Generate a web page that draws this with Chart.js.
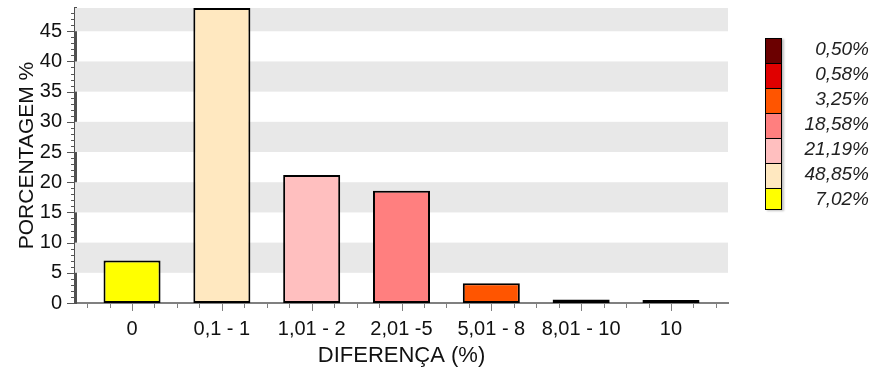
<!DOCTYPE html>
<html lang="pt-BR">
<head>
<meta charset="utf-8">
<title>Diferença (%)</title>
<script src="https://cdn.jsdelivr.net/npm/chart.js@4.4.1/dist/chart.umd.min.js"></script>
<style>
  html, body { margin: 0; padding: 0; background: #fff; }
  #caixa { position: relative; width: 875px; height: 372px; }
  #legenda { position: absolute; left: 765px; top: 38px; width: 104px; }
  .item { position: relative; height: 25px; }
  .cor { position: absolute; left: 0; top: 0; width: 15px; height: 24px; border: 1px solid #000; border-bottom: 0; box-shadow: 2px 1px 2px rgba(0,0,0,0.25); }
  .item:last-child .cor { height: 20px; border-bottom: 1px solid #000; }
  .txt { position: absolute; right: 0; top: 0; line-height: 25px; font: italic 19px "Liberation Sans", Arial, sans-serif; color: #222; }
</style>
</head>
<body>
<div id="caixa">
  <canvas id="barChart" width="875" height="372"></canvas>
  <div id="legenda"></div>
</div>
<script>
// dados
const categorias = ['0', '0,1 - 1', '1,01 - 2', '2,01 -5', '5,01 - 8', '8,01 - 10', '10'];
const porcentagens = [7.02, 48.85, 21.19, 18.58, 3.25, 0.58, 0.50];
const rotulosLegenda = ['7,02%', '48,85%', '21,19%', '18,58%', '3,25%', '0,58%', '0,50%'];
const cores = ['#ffff00', '#ffe8c0', '#ffbfbf', '#ff7f7f', '#ff5500', '#e00000', '#6b0000'];
const ticksY = [0, 5, 10, 15, 20, 25, 30, 35, 40, 45];

// faixas cinzas + marcas menores dos eixos
const faixasEMarcas = {
    id: 'faixasEMarcas',
    beforeDatasetsDraw(chart) {
        const { ctx, chartArea, scales: { y } } = chart;
        ctx.save();
        ctx.fillStyle = '#e8e8e8';
        for (let v = 5; v < y.max; v += 10) {
            const topo = y.getPixelForValue(Math.min(v + 5, y.max));
            const base = y.getPixelForValue(v);
            ctx.fillRect(chartArea.left, topo, chartArea.right - chartArea.left, base - topo);
        }
        ctx.restore();
    },
    afterDraw(chart) {
        const { ctx, chartArea, scales: { x, y } } = chart;
        ctx.save();
        ctx.lineWidth = 1;
        ctx.strokeStyle = '#555';
        for (let v = 0; v <= y.max; v++) {
            const py = Math.round(y.getPixelForValue(v)) + 0.5;
            const tam = v % 5 === 0 ? 8 : 4;
            ctx.beginPath();
            ctx.moveTo(chartArea.left - tam, py);
            ctx.lineTo(chartArea.left, py);
            ctx.stroke();
        }
        ctx.strokeStyle = '#808080';
        for (let k = Math.ceil(x.min * 4); k <= Math.floor(x.max * 4); k++) {
            const px = Math.round(x.getPixelForValue(k / 4)) + 0.5;
            const tam = k % 4 === 0 ? 8 : 5;
            ctx.beginPath();
            ctx.moveTo(px, chartArea.bottom);
            ctx.lineTo(px, chartArea.bottom + tam);
            ctx.stroke();
        }
        ctx.restore();
    }
};

const ctxBar = document.getElementById('barChart').getContext('2d');
const fonte = '"Liberation Sans", Arial, sans-serif';

let chart = new Chart(ctxBar, {
    type: 'bar',
    data: {
        datasets: [{
            data: porcentagens.map((v, i) => ({ x: i, y: v })),
            backgroundColor: cores,
            borderColor: '#000',
            borderWidth: 2,
            borderSkipped: false,
            barPercentage: 0.635,
            categoryPercentage: 1
        }]
    },
    options: {
        responsive: false,
        animation: false,
        layout: { padding: { left: 0, right: 147, top: 8, bottom: 0 } },
        plugins: {
            legend: { display: false },
            tooltip: { enabled: false }
        },
        scales: {
            x: {
                type: 'linear',
                min: -0.635,
                max: 6.635,
                offset: false,
                afterFit: s => { s.height = 69; s.paddingLeft = 0; s.paddingRight = 0; },
                afterBuildTicks: s => { s.ticks = categorias.map((c, i) => ({ value: i })); },
                grid: { display: false, drawTicks: false },
                border: { display: true, color: '#808080', width: 2 },
                ticks: {
                    autoSkip: false,
                    maxRotation: 0,
                    padding: 14,
                    color: '#111',
                    font: { family: fonte, size: 20 },
                    callback: v => categorias[v]
                },
                title: {
                    display: true,
                    text: 'DIFERENÇA (%)',
                    color: '#111',
                    font: { family: fonte, size: 22 },
                    padding: { top: 0, bottom: 3 }
                }
            },
            y: {
                min: 0,
                max: 48.85,
                afterFit: s => { s.width = 75; s.paddingTop = 0; s.paddingBottom = 0; },
                afterBuildTicks: s => { s.ticks = ticksY.map(v => ({ value: v })); },
                grid: { display: false, drawTicks: false },
                border: { display: true, color: '#505050', width: 3 },
                ticks: {
                    padding: 13,
                    color: '#111',
                    font: { family: fonte, size: 20 }
                },
                title: {
                    display: true,
                    text: 'PORCENTAGEM %',
                    color: '#111',
                    font: { family: fonte, size: 21 },
                    padding: { top: 15, bottom: 0 }
                }
            }
        }
    },
    plugins: [faixasEMarcas]
});

// legenda em ordem inversa, como no original
const legenda = document.getElementById('legenda');
for (let i = categorias.length - 1; i >= 0; i--) {
    const item = document.createElement('div');
    item.className = 'item';
    item.innerHTML = '<div class="cor" style="background:' + cores[i] + '"></div><span class="txt">' + rotulosLegenda[i] + '</span>';
    legenda.appendChild(item);
}
</script>
</body>
</html>
